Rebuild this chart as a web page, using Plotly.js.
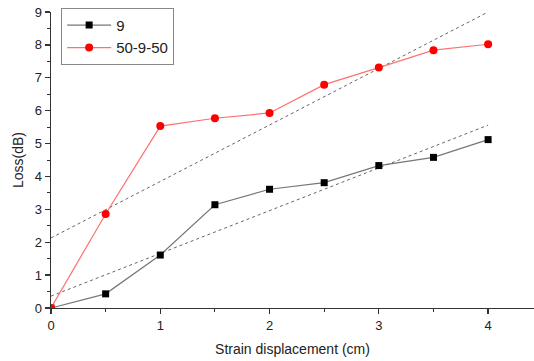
<!DOCTYPE html>
<html>
<head>
<meta charset="utf-8">
<script src="https://cdn.plot.ly/plotly-3.0.1.min.js"></script>
<style>html,body{margin:0;padding:0;background:#fff;}#chart{width:534px;height:361px;}</style>
</head>
<body>
<div id="chart"></div>
<script>
var strain = [0, 0.5, 1, 1.5, 2, 2.5, 3, 3.5, 4];
var loss9 = [0, 0.43, 1.61, 3.14, 3.61, 3.81, 4.33, 4.58, 5.12];
var loss50950 = [0, 2.86, 5.53, 5.77, 5.93, 6.79, 7.31, 7.84, 8.02];
var fitX = [0, 4];
var fit9 = [0.36, 5.56];
var fit50950 = [2.13, 9.0];
var seriesNames = ['9', '50-9-50'];

var font = {family: 'Liberation Sans, Arial, sans-serif', color: '#222'};

var traces = [
  {x: fitX, y: fit9, mode: 'lines', line: {color: '#666', width: 1, dash: 'dot'}, showlegend: false, hoverinfo: 'skip'},
  {x: fitX, y: fit50950, mode: 'lines', line: {color: '#666', width: 1, dash: 'dot'}, showlegend: false, hoverinfo: 'skip'},
  {x: strain, y: loss9, name: seriesNames[0], mode: 'lines+markers',
   line: {color: '#777', width: 1.2}, marker: {symbol: 'square', size: 7, color: '#000'}},
  {x: strain, y: loss50950, name: seriesNames[1], mode: 'lines+markers',
   line: {color: '#ff7070', width: 1.2}, marker: {symbol: 'circle', size: 8, color: '#ff0000'}}
];

var axisCommon = {
  showgrid: false, zeroline: false, showline: true, linecolor: '#333', linewidth: 1.3,
  ticks: 'outside', ticklen: 5, tickwidth: 1.3, tickcolor: '#333',
  tickfont: {family: font.family, size: 13, color: '#222'},
  minor: {ticks: 'outside', ticklen: 3, tickwidth: 1, tickcolor: '#333', showgrid: false}
};

var layout = {
  width: 534, height: 361,
  margin: {l: 51, r: 0, t: 12, b: 53},
  paper_bgcolor: '#fff', plot_bgcolor: '#fff',
  font: font,
  xaxis: Object.assign({}, axisCommon, {
    range: [0, 4.42], dtick: 1, tick0: 0,
    minor: Object.assign({}, axisCommon.minor, {dtick: 0.5}),
    title: {text: 'Strain displacement (cm)', font: {family: font.family, size: 14, color: '#222'}, standoff: 12}
  }),
  yaxis: Object.assign({}, axisCommon, {
    range: [0, 9], dtick: 1, tick0: 0,
    minor: Object.assign({}, axisCommon.minor, {dtick: 0.5}),
    title: {text: 'Loss(dB)', font: {family: font.family, size: 14, color: '#222'}, standoff: 8}
  }),
  legend: {
    x: 0.021, y: 1.014, xanchor: 'left', yanchor: 'top',
    bordercolor: '#888', borderwidth: 1, bgcolor: '#fff',
    font: {family: font.family, size: 15, color: '#222'},
    itemwidth: 44, tracegroupgap: 0
  },
  showlegend: true
};

Plotly.newPlot('chart', traces, layout, {displayModeBar: false, staticPlot: true});
</script>
</body>
</html>
